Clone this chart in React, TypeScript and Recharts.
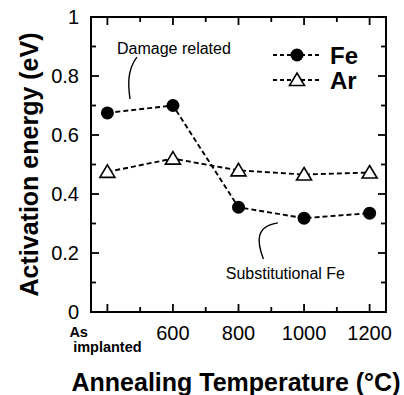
import React from "react";
import {
  LineChart,
  Line,
  XAxis,
  YAxis,
  ReferenceArea,
  Customized,
} from "recharts";

// "As implanted" sits at 400 on the temperature axis
const TEMPS = [400, 600, 800, 1000, 1200];
const FE_EA = [0.675, 0.7, 0.355, 0.318, 0.335];
const AR_EA = [0.475, 0.52, 0.48, 0.466, 0.473];

const X_TICKS = [400, 500, 600, 700, 800, 900, 1000, 1100, 1200];
const Y_TICKS = [0, 0.1, 0.2, 0.3, 0.4, 0.5, 0.6, 0.7, 0.8, 0.9, 1];
const X_DOMAIN: [number, number] = [350, 1250];
const Y_DOMAIN: [number, number] = [0, 1];

const data = TEMPS.map((t, i) => ({ t, fe: FE_EA[i], ar: AR_EA[i] }));

const W = 404;
const H = 395;
const LEFT = 91;
const TOP = 17;
const RIGHT = 18;
const BOTTOM = 83;
const PLOT_W = W - LEFT - RIGHT;
const PLOT_H = H - TOP - BOTTOM;

const FONT = "'Liberation Sans', Arial, Helvetica, sans-serif";
const DASH = "5 3";

// data -> pixel helpers for the annotation layer
const px = (x: number) =>
  LEFT + ((x - X_DOMAIN[0]) / (X_DOMAIN[1] - X_DOMAIN[0])) * PLOT_W;
const py = (y: number) =>
  TOP + PLOT_H - ((y - Y_DOMAIN[0]) / (Y_DOMAIN[1] - Y_DOMAIN[0])) * PLOT_H;

function XTick({ x, y, payload }: any) {
  const v = payload.value as number;
  const major = v % 200 === 0;
  const len = major ? 8 : 5;
  return (
    <g>
      <line x1={x} x2={x} y1={y} y2={y - len} stroke="#000" strokeWidth={1.8} />
      <line x1={x} x2={x} y1={y - PLOT_H} y2={y - PLOT_H + len} stroke="#000" strokeWidth={1.8} />
      {v === 400 ? (
        <g fontFamily={FONT} fontWeight="bold" fontSize={14.5} fill="#000">
          <text x={x - 38} y={y + 25}>As</text>
          <text x={x} y={y + 40} textAnchor="middle">implanted</text>
        </g>
      ) : major ? (
        <text x={x} y={y + 28} textAnchor="middle" fontFamily={FONT} fontSize={20} fill="#000">
          {v}
        </text>
      ) : null}
    </g>
  );
}

function YTick({ x, y, payload }: any) {
  const v = payload.value as number;
  const major = Math.round(v * 10) % 2 === 0;
  const len = major ? 8 : 5;
  const label = v === 0 ? "0" : v === 1 ? "1" : v.toFixed(1);
  return (
    <g>
      <line x1={x} x2={x + len} y1={y} y2={y} stroke="#000" strokeWidth={1.8} />
      <line x1={x + PLOT_W} x2={x + PLOT_W - len} y1={y} y2={y} stroke="#000" strokeWidth={1.8} />
      {major && (
        <text x={x - 12} y={y} dy="0.36em" textAnchor="end" fontFamily={FONT} fontSize={20} fill="#000">
          {label}
        </text>
      )}
    </g>
  );
}

function Triangle({ cx, cy }: any) {
  if (cx == null || cy == null) return null;
  return (
    <path
      d={`M${cx},${cy - 7} L${cx + 7.5},${cy + 5.5} L${cx - 7.5},${cy + 5.5} Z`}
      fill="#fff"
      stroke="#000"
      strokeWidth={1.6}
    />
  );
}

function Annotations() {
  // leader curves, control points in data space
  const curve = (pts: number[][]) =>
    `M${px(pts[0][0])},${py(pts[0][1])} C${pts
      .slice(1)
      .map((p) => `${px(p[0])},${py(p[1])}`)
      .join(" ")}`;
  const damage = [
    [469, 0.722],
    [463, 0.77],
    [460, 0.82],
    [490, 0.864],
  ];
  const subst = [
    [876, 0.18],
    [855, 0.24],
    [852, 0.29],
    [920, 0.302],
  ];

  return (
    <g fontFamily={FONT} fill="#000">
      <path d={curve(damage)} fill="none" stroke="#000" strokeWidth={1.4} />
      <path d={curve(subst)} fill="none" stroke="#000" strokeWidth={1.4} />
      <text x={px(603)} y={py(0.893)} dy="0.35em" textAnchor="middle" fontSize={16}>
        Damage related
      </text>
      <text x={px(943)} y={py(0.132)} dy="0.35em" textAnchor="middle" fontSize={16}>
        Substitutional Fe
      </text>

      {/* legend */}
      <g>
        <line x1={273} x2={322} y1={55} y2={55} stroke="#000" strokeWidth={1.8} strokeDasharray="4 3" />
        <circle cx={297} cy={55} r={6.5} fill="#000" />
        <text x={330} y={55} dy="0.36em" fontSize={24} fontWeight="bold">Fe</text>
        <line x1={273} x2={322} y1={80} y2={80} stroke="#000" strokeWidth={1.8} strokeDasharray="4 3" />
        <Triangle cx={297} cy={80} />
        <text x={330} y={80} dy="0.36em" fontSize={24} fontWeight="bold">Ar</text>
      </g>

      <text x={236} y={382} textAnchor="middle" dy="0.35em" fontSize={25} fontWeight="bold">
        Annealing Temperature (°C)
      </text>
      <text
        x={0}
        y={0}
        transform={`translate(29, ${TOP + PLOT_H / 2}) rotate(-90)`}
        textAnchor="middle"
        dy="0.35em"
        fontSize={25}
        fontWeight="bold"
      >
        Activation energy (eV)
      </text>
    </g>
  );
}

export default function App() {
  return (
    <div style={{ position: "absolute", left: 0, top: 0, background: "#fff" }}>
      <LineChart
        width={W}
        height={H}
        data={data}
        margin={{ top: TOP, right: RIGHT, left: 0, bottom: 0 }}
      >
        <XAxis
          dataKey="t"
          type="number"
          domain={X_DOMAIN}
          ticks={X_TICKS}
          interval={0}
          height={BOTTOM}
          tickSize={0}
          tickMargin={0}
          tickLine={false}
          axisLine={false}
          tick={<XTick />}
          allowDataOverflow
        />
        <YAxis
          type="number"
          domain={Y_DOMAIN}
          ticks={Y_TICKS}
          interval={0}
          width={LEFT}
          tickSize={0}
          tickMargin={0}
          tickLine={false}
          axisLine={false}
          tick={<YTick />}
          allowDataOverflow
        />
        <ReferenceArea
          x1={X_DOMAIN[0]}
          x2={X_DOMAIN[1]}
          y1={Y_DOMAIN[0]}
          y2={Y_DOMAIN[1]}
          fill="none"
          fillOpacity={0}
          stroke="#000"
          strokeWidth={2}
          ifOverflow="visible"
        />
        <Line
          dataKey="ar"
          stroke="#000"
          strokeWidth={1.9}
          strokeDasharray={DASH}
          dot={<Triangle />}
          isAnimationActive={false}
        />
        <Line
          dataKey="fe"
          stroke="#000"
          strokeWidth={1.9}
          strokeDasharray={DASH}
          dot={{ r: 6.5, fill: "#000", stroke: "none" }}
          isAnimationActive={false}
        />
        <Customized component={<Annotations />} />
      </LineChart>
    </div>
  );
}
